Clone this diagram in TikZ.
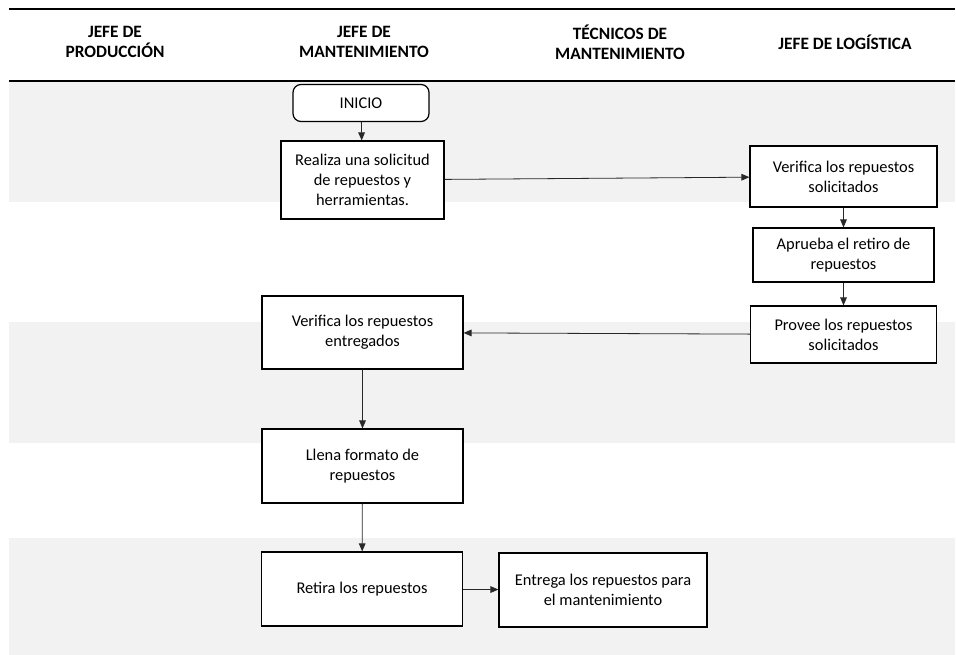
\documentclass[tikz,border=0pt]{standalone}
\usepackage{fontspec}
\setmainfont{Carlito}
\usepackage{xcolor}
\usetikzlibrary{arrows.meta}
\definecolor{lanegray}{RGB}{242,242,242}
\definecolor{linegray}{RGB}{40,40,40}

\tikzset{
  paso/.style={draw=black, line width=0.9pt, fill=white, align=center, inner sep=0pt,
    font=\fontsize{12.3}{15}\selectfont},
  flecha/.style={draw=linegray, line width=0.6pt, -{Triangle[length=6pt,width=5pt]}},
  cabecera/.style={align=center, font=\fontsize{13}{15}\selectfont\bfseries}
}

\begin{document}
\begin{tikzpicture}[x=0.75pt, y=-0.75pt]

\useasboundingbox (0,0) rectangle (956,655);

% Background lanes
\foreach \ya/\yb in {81/202, 322/443, 538/655} {
    \fill[lanegray] (9,\ya) rectangle (955,\yb);
}

% Header lines
\draw[line width=0.8pt] (9,9) -- (955,9);
\draw[line width=1.6pt] (9,81) -- (955,81);

% Header
\node[cabecera] (hprod) at (115,42) {JEFE DE\\PRODUCCIÓN};
\node[cabecera] (hmant) at (364,42) {JEFE DE\\MANTENIMIENTO};
\node[cabecera] (htec) at (620,42) {TÉCNICOS DE\\MANTENIMIENTO};
\node[cabecera] (hlog) at (845,42) {JEFE DE LOGÍSTICA};

% Steps
\node[paso, rounded corners=6pt, minimum width=102pt, minimum height=27.75pt] (inicio) at (361,103) {INICIO};
\node[paso, minimum width=122.25pt, minimum height=58.5pt] (solicitud) at (362.5,180) {Realiza una solicitud\\de repuestos y\\herramientas.};
\node[paso, minimum width=140.25pt, minimum height=45.75pt] (versol) at (843.5,176.5) {Verifica los repuestos\\solicitados};
\node[paso, minimum width=135.75pt, minimum height=40.5pt] (aprueba) at (843.5,255) {Aprueba el retiro de\\repuestos};
\node[paso, minimum width=139.5pt, minimum height=42.75pt] (provee) at (843.5,334.5) {Provee los repuestos\\solicitados};
\node[paso, minimum width=150.75pt, minimum height=54.75pt] (verent) at (362.5,332.5) {Verifica los repuestos\\entregados};
\node[paso, minimum width=150.75pt, minimum height=55.5pt] (formato) at (362.5,466) {Llena formato de\\repuestos};
\node[paso, minimum width=150.75pt, minimum height=55.5pt] (retira) at (362,589) {Retira los repuestos};
\node[paso, minimum width=156pt, minimum height=55.5pt] (entrega) at (603,590) {Entrega los repuestos para\\el mantenimiento};

% Connectors
\draw[flecha] (inicio) -- (solicitud);
\draw[flecha] (solicitud) -- (versol);
\draw[flecha] (versol) -- (aprueba);
\draw[flecha] (aprueba) -- (provee);
\draw[flecha] (provee) -- (verent);
\draw[flecha] (verent) -- (formato);
\draw[flecha] (formato) -- (retira);
\draw[flecha] (retira) -- (entrega);

\end{tikzpicture}
\end{document}
